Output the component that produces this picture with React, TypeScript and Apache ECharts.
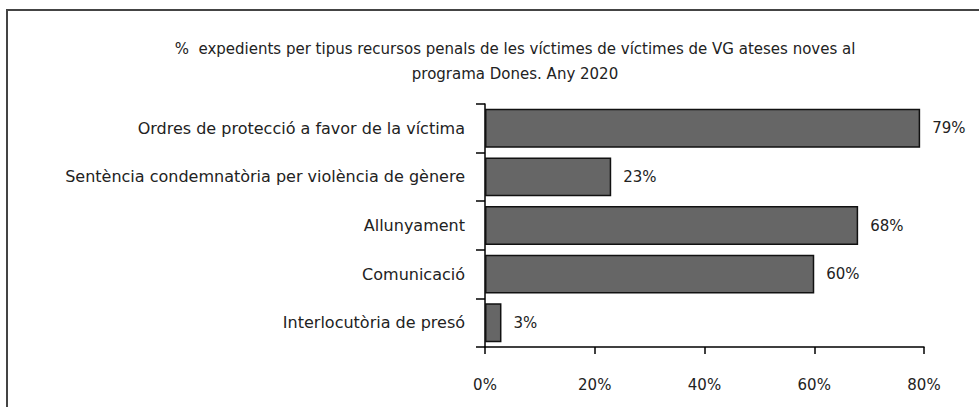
import React, { useEffect, useRef } from "react";
import * as echarts from "echarts";

const titleLines = [
  "%  expedients per tipus recursos penals de les víctimes de víctimes de VG ateses noves al",
  "programa Dones. Any 2020",
];
const categories = [
  "Ordres de protecció a favor de la víctima",
  "Sentència condemnatòria per violència de gènere",
  "Allunyament",
  "Comunicació",
  "Interlocutòria de presó",
];
const values = [79.3, 23, 68, 60, 3];
const valueLabels = ["79%", "23%", "68%", "60%", "3%"];
const axisMin = 0;
const axisMax = 80;
const axisStep = 20;

const FONT = "DejaVu Sans";

export default function App() {
  const ref = useRef<HTMLDivElement>(null);
  useEffect(() => {
    document.body.style.margin = "0";
    if (!ref.current) return;
    const chart = echarts.init(ref.current, undefined, { renderer: "svg" });
    chart.setOption({
      animation: false,
      backgroundColor: "#ffffff",
      title: {
        text: titleLines.join("\n"),
        left: 510,
        top: 31,
        textAlign: "center",
        textStyle: {
          fontFamily: FONT,
          fontSize: 15,
          fontWeight: "normal",
          color: "#222",
          lineHeight: 25,
        },
      },
      graphic: [
        {
          type: "rect",
          shape: { x: 7, y: 10, width: 1000, height: 420 },
          style: { fill: "none", stroke: "#444", lineWidth: 2 },
          silent: true,
        },
      ],
      grid: { left: 485, right: 55, top: 104, bottom: 60, containLabel: false },
      xAxis: {
        type: "value",
        min: axisMin,
        max: axisMax,
        interval: axisStep,
        axisLine: { show: true, lineStyle: { color: "#000", width: 1.5 } },
        axisTick: { show: true, length: 7, lineStyle: { color: "#000", width: 1.5 } },
        splitLine: { show: false },
        axisLabel: {
          margin: 30,
          fontFamily: FONT,
          fontSize: 15,
          color: "#222",
          formatter: (v: number) => `${v}%`,
        },
      },
      yAxis: {
        type: "category",
        data: categories,
        inverse: true,
        axisLine: { show: true, lineStyle: { color: "#000", width: 1.5 } },
        axisTick: { show: true, length: 9, alignWithLabel: false, lineStyle: { color: "#000", width: 1.5 } },
        axisLabel: {
          margin: 20,
          fontFamily: FONT,
          fontSize: 16,
          color: "#222",
        },
      },
      series: [
        {
          type: "bar",
          data: values,
          barCategoryGap: "20%",
          itemStyle: { color: "#666666", borderColor: "#111", borderWidth: 1.5 },
          label: {
            show: true,
            position: "right",
            distance: 12,
            fontFamily: FONT,
            fontSize: 15,
            color: "#222",
            formatter: (p: any) => valueLabels[p.dataIndex],
          },
        },
      ],
    });
    return () => chart.dispose();
  }, []);
  return <div ref={ref} style={{ width: 979, height: 407 }} />;
}
